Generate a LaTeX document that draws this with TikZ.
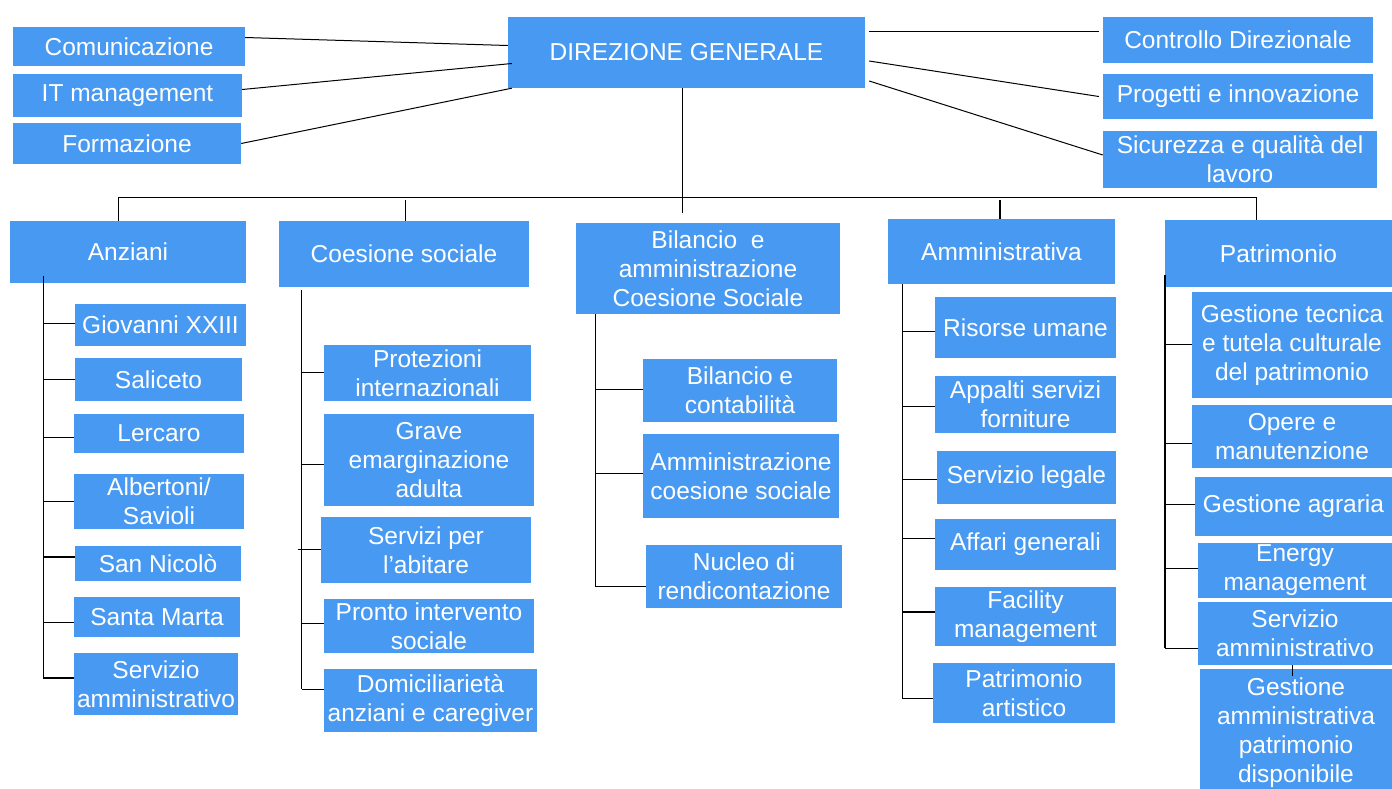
\documentclass[tikz,border=0pt]{standalone}
\usepackage{fontspec}
\setmainfont{Liberation Sans}
\definecolor{boxblue}{RGB}{72,153,242}
\tikzset{
  bx/.style={fill=boxblue, draw=none, text=white, inner sep=0pt, align=center,
    font=\fontsize{24.5}{29}\selectfont},
  ln/.style={draw=black, line width=1pt},
  thk/.style={line width=2pt}
}
\newcommand\bx[6]{\node[bx, minimum width={(#4-#2)*1pt}, minimum height={(#5-#3)*1pt}] (#1) at ({(#2+#4)/2},{(#3+#5)/2}) {#6};}
\newcommand\tick[4][]{\coordinate (tmp) at (0,#4); \draw[ln,#1] (#2 |- tmp) -- (#3.west |- tmp);}
\begin{document}
\begin{tikzpicture}[x=1pt,y=-1pt]
\useasboundingbox (0,0) rectangle (1392,788);
\fill[white] (0,0) rectangle (1392,788);
% top level
\bx{dg}{508}{17}{865}{88}{DIREZIONE GENERALE}
\bx{com}{13}{27}{245}{66}{Comunicazione}
\bx{itm}{13}{74}{242}{117}{IT management}
\bx{for}{13}{123}{241}{164}{Formazione}
\bx{ctl}{1103}{17}{1373}{63}{Controllo Direzionale}
\bx{prg}{1103}{74}{1373}{119}{Progetti e innovazione}
\bx{sic}{1103}{131}{1377}{188}{Sicurezza e qualità del\\lavoro}
% second level
\bx{anz}{10}{221}{246}{283}{Anziani}
\bx{coe}{279}{221}{529}{287}{Coesione sociale}
\bx{bil}{576}{223}{840}{314}{Bilancio\ \ e\\amministrazione\\Coesione Sociale}
\bx{amm}{888}{219}{1115}{284}{Amministrativa}
\bx{pat}{1165}{220}{1392}{287}{Patrimonio}
% Anziani children
\bx{giov}{75}{304}{246}{346}{Giovanni XXIII}
\bx{sal}{75}{358}{242}{401}{Saliceto}
\bx{ler}{74}{414}{244}{453}{Lercaro}
\bx{alb}{74}{474}{244}{529}{Albertoni/\\Savioli}
\bx{snic}{75}{546}{241}{581}{San Nicolò}
\bx{smar}{74}{597}{240}{637}{Santa Marta}
\bx{sam}{74}{653}{238}{715}{Servizio\\amministrativo}
% Coesione children
\bx{prot}{324}{345}{531}{401}{Protezioni\\internazionali}
\bx{grave}{324}{414}{534}{506}{Grave\\emarginazione\\adulta}
\bx{serv}{321}{517}{531}{583}{Servizi per\\l’abitare}
\bx{pronto}{324}{599}{534}{653}{Pronto intervento\\sociale}
\bx{domi}{324}{669}{537}{732}{Domiciliarietà\\anziani e caregiver}
% Bilancio children
\bx{bc}{643}{359}{837}{422}{Bilancio e\\contabilità}
\bx{acs}{643}{434}{839}{518}{Amministrazione\\coesione sociale}
\bx{nuc}{646}{545}{842}{608}{Nucleo di\\rendicontazione}
% Amministrativa children
\bx{ris}{935}{297}{1116}{358}{Risorse umane}
\bx{app}{935}{376}{1116}{433}{Appalti servizi\\forniture}
\bx{leg}{937}{451}{1116}{504}{Servizio legale}
\bx{aff}{935}{519}{1116}{570}{Affari generali}
\bx{fac}{935}{587}{1116}{646}{Facility\\management}
\bx{part}{933}{663}{1115}{723}{Patrimonio\\artistico}
% Patrimonio children
\bx{gt}{1192}{292}{1392}{398}{Gestione tecnica\\e tutela culturale\\del patrimonio}
\bx{ope}{1192}{405}{1392}{468}{Opere e\\manutenzione}
\bx{agr}{1195}{477}{1392}{536}{Gestione agraria}
\bx{ene}{1198}{543}{1392}{598}{Energy\\management}
\bx{sam2}{1198}{602}{1392}{665}{Servizio\\amministrativo}
\bx{gap}{1200}{669}{1392}{796}{Gestione\\amministrativa\\patrimonio\\disponibile}
% staff connectors
\draw[ln] ([yshift=9pt]com.east) -- ([yshift=7pt]dg.west);
\draw[ln] ([yshift=6pt]itm.east) -- ([xshift=4pt,yshift=-11pt]dg.west);
\draw[ln] (for.east) -- ([xshift=4pt]dg.south west);
\draw[ln] ([xshift=4pt,yshift=21.5pt]dg.east) -- ([xshift=-4pt,yshift=9pt]ctl.west);
\draw[ln] ([xshift=4pt,yshift=-8.5pt]dg.east) -- ([xshift=-4pt]prg.west);
\draw[ln] ([xshift=4pt,yshift=-28.5pt]dg.east) -- ([yshift=4.5pt]sic.west);
% main bus
\coordinate (dgB) at (682,88);
\coordinate (dgE) at (682,213);
\coordinate (busL) at (118,197);
\coordinate (busR) at (1256,197);
\draw[ln] (dgB) -- (dgE);
\draw[ln] (anz.north -| busL) -- (busL) -- (busR) -- (pat.north -| busR);
\coordinate (coeT) at (405,200);
\coordinate (ammT) at (1000,200);
\draw[ln] (coeT) -- (coe.north -| coeT);
\draw[ln,thk] (ammT) -- (amm.north -| ammT);
% Anziani spine
\coordinate (anzS) at (43,276);
\coordinate (anzE) at (43,679);
\draw[ln] (anzS) -- (anzE);
\tick{anzS}{giov}{323}
\tick{anzS}{sal}{379}
\tick{anzS}{ler}{437}
\tick{anzS}{alb}{501}
\tick[thk]{anzS}{snic}{557}
\tick{anzS}{smar}{622}
\tick[thk]{anzS}{sam}{678}
% Coesione spine
\coordinate (coeS) at (301.5,290);
\coordinate (coeE) at (301.5,689);
\draw[ln] (coeS) -- (coeE);
\tick{coeS}{prot}{372}
\tick{coeS}{grave}{464}
\coordinate (tmp) at (0,549); \draw[ln] ([xshift=-4pt]coeS |- tmp) -- (serv.west |- tmp);
\tick{coeS}{pronto}{623}
\tick{coeS}{domi}{689}
% Bilancio spine
\coordinate (bilS) at (595,314);
\coordinate (bilE) at (595,586);
\draw[ln] (bilS) -- (bilE);
\tick{bilS}{bc}{389}
\tick{bilS}{acs}{473}
\tick{bilS}{nuc}{586}
% Amministrativa spine
\coordinate (ammS) at (902,284);
\coordinate (ammE) at (902,698);
\draw[ln] (ammS) -- (ammE);
\tick{ammS}{ris}{331}
\tick{ammS}{app}{406}
\tick{ammS}{leg}{479}
\tick{ammS}{aff}{538}
\tick[thk]{ammS}{fac}{612}
\tick{ammS}{part}{698}
% Patrimonio spine
\coordinate (patS) at (1165,275);
\coordinate (patE) at (1165,648);
\draw[ln,thk] (patS) -- (patE);
\tick{patS}{gt}{344}
\tick{patS}{ope}{443}
\tick{patS}{agr}{504}
\tick{patS}{ene}{568}
\tick{patS}{sam2}{648}
\coordinate (gapC) at (1292,665);
\draw[ln] (gapC) -- ([yshift=-7pt]gap.north -| gapC);
\end{tikzpicture}
\end{document}
